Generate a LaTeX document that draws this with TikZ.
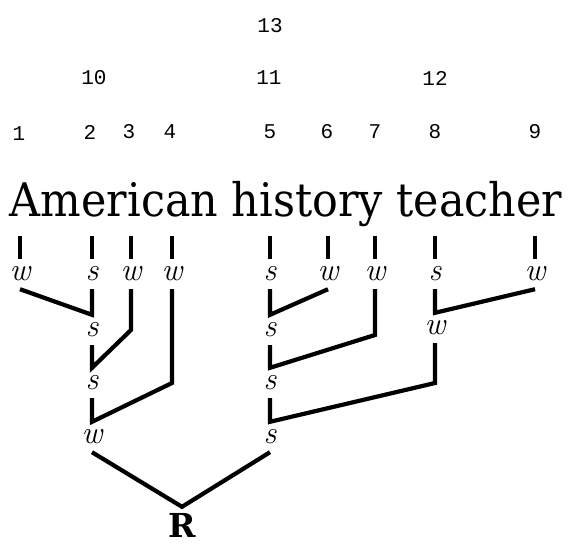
\documentclass[tikz,border=0pt]{standalone}
\usepackage{fontspec}
\usepackage{graphicx}
\newfontfamily\mainserif{DejaVu Serif}
\newfontfamily\monof{Liberation Mono}
\begin{document}
\begin{tikzpicture}[x=1pt,y=-1pt,
  num/.style={font=\monof\fontsize{21}{21}\selectfont, inner sep=0pt},
  lab/.style={font=\rmfamily\itshape\fontsize{32}{32}\selectfont, inner sep=0pt, minimum height=30pt},
  tick/.style={line width=4pt},
  conn/.style={line width=4.2pt},
  rootlab/.style={font=\mainserif\bfseries\fontsize{33}{33}\selectfont, inner sep=0pt, minimum height=36pt}
]
\useasboundingbox (0,0) rectangle (568,547);
% numbers
\node[num] (n13) at (270,26) {13};
\node[num] (n10) at (94,78) {10};
\node[num] (n11) at (269,78) {11};
\node[num] (n12) at (435,78) {12};
\node[num] (n1) at (19,134) {1};
\node[num] (n2) at (90,132) {2};
\node[num] (n3) at (129,132) {3};
\node[num] (n4) at (170,132) {4};
\node[num] (n5) at (270,132) {5};
\node[num] (n6) at (327,132) {6};
\node[num] (n7) at (375,132) {7};
\node[num] (n8) at (435,132) {8};
\node[num] (n9) at (535,132) {9};
% sentence
\node[anchor=base, inner sep=0pt] (txt) at (286,216) {\scalebox{1}[1.08]{\resizebox{552pt}{!}{\mainserif\fontsize{40}{48}\selectfont American history teacher}}};
% tick tops
\coordinate (t1) at (20,236);
\coordinate (t2) at (92,236);
\coordinate (t3) at (131,236);
\coordinate (t4) at (172,236);
\coordinate (t5) at (270,236);
\coordinate (t6) at (328,236);
\coordinate (t7) at (375,236);
\coordinate (t8) at (435,236);
\coordinate (t9) at (535,236);
% leaf labels
\node[lab] (L1) at (20,274) {w};
\node[lab] (L2) at (92,274) {s};
\node[lab] (L3) at (131,274) {w};
\node[lab] (L4) at (172,274) {w};
\node[lab] (L5) at (270,274) {s};
\node[lab] (L6) at (328,274) {w};
\node[lab] (L7) at (375,274) {w};
\node[lab] (L8) at (435,274) {s};
\node[lab] (L9) at (535,274) {w};
% inner labels
\node[lab] (P1) at (92,330) {s};
\node[lab] (P2) at (92,383) {s};
\node[lab] (P3) at (92,437) {w};
\node[lab] (Q1) at (270,330) {s};
\node[lab] (Q2) at (270,383) {s};
\node[lab] (Q3) at (435,328) {w};
\node[lab] (Q4) at (270,437) {s};
\node[rootlab] (R) at (182,525) {R};
% ticks
\foreach \i in {1,...,9} { \draw[tick] (t\i) -- (L\i.north); }
% left tree
\draw[conn] (L1.south) -- (P1.north) -- (L2.south);
\draw[conn] (P1.south) -- (P2.north) -- (L3.south |- P1.center) -- (L3.south);
\draw[conn] (P2.south) -- (P3.north) -- (L4.south |- P2.center) -- (L4.south);
% right tree
\draw[conn] (L5.south) -- (Q1.north) -- (L6.south);
\draw[conn] (Q1.south) -- (Q2.north) -- ([yshift=-5pt]L7.south |- Q1.center) -- (L7.south);
\draw[conn] (L8.south) -- (Q3.north) -- (L9.south);
\draw[conn] (Q2.south) -- (Q4.north) -- (Q3.south |- Q2.center) -- (Q3.south);
% root
\draw[conn] (P3.south) -- (R.north) -- (Q4.south);
\end{tikzpicture}
\end{document}
